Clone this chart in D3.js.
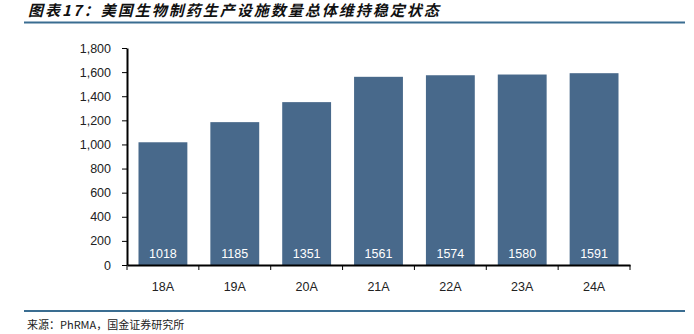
<!DOCTYPE html>
<html lang="zh">
<head>
    <meta charset="UTF-8">
    <title>美国生物制药生产设施数量</title>
    <style>
        body { margin: 0; background: #fff; }
        svg { display: block; }
    </style>
</head>
<body>
<svg></svg>
<script src="https://cdn.jsdelivr.net/npm/d3@7"></script>
<script>
    var years = ["18A", "19A", "20A", "21A", "22A", "23A", "24A"];
    var facilities = [1018, 1185, 1351, 1561, 1574, 1580, 1591];
    var yTicks = [0, 200, 400, 600, 800, 1000, 1200, 1400, 1600, 1800];

    var width = 694, height = 334;
    var plotLeft = 127, plotRight = 630, plotTop = 48, plotBottom = 265;

    var svg = d3.select("svg").attr("width", width).attr("height", height);

    // title + rules
    svg.append("text")
        .attr("x", 28).attr("y", 16)
        .attr("font-family", "'Noto Sans CJK SC', sans-serif")
        .attr("font-size", 15).attr("font-weight", 600).attr("font-style", "italic")
        .attr("letter-spacing", 2)
        .attr("fill", "#111")
        .text("图表17：美国生物制药生产设施数量总体维持稳定状态");
    svg.append("line").attr("x1", 24).attr("x2", 685).attr("y1", 22.5).attr("y2", 22.5)
        .attr("stroke", "#3a6d91").attr("stroke-width", 2);
    svg.append("line").attr("x1", 24).attr("x2", 685).attr("y1", 311).attr("y2", 311)
        .attr("stroke", "#3a6d91").attr("stroke-width", 2);
    svg.append("text")
        .attr("x", 27).attr("y", 329)
        .attr("font-family", "'Noto Sans CJK SC', monospace")
        .attr("font-size", 11).attr("fill", "#222")
        .text("来源：PhRMA，国金证券研究所");

    var x = d3.scaleBand().domain(years).range([plotLeft, plotRight]).paddingInner(0.32).paddingOuter(0.16);
    var y = d3.scaleLinear().domain([0, 1800]).range([plotBottom, plotTop]);

    svg.selectAll("rect.bar")
        .data(facilities)
        .enter().append("rect")
        .attr("class", "bar")
        .attr("x", function (d, i) { return x(years[i]); })
        .attr("y", function (d) { return y(d); })
        .attr("width", x.bandwidth())
        .attr("height", function (d) { return y(0) - y(d); })
        .attr("fill", "#48698b");

    svg.selectAll("text.val")
        .data(facilities)
        .enter().append("text")
        .attr("class", "val")
        .attr("x", function (d, i) { return x(years[i]) + x.bandwidth() / 2; })
        .attr("y", plotBottom - 7)
        .attr("text-anchor", "middle")
        .attr("font-family", "Arial, 'Liberation Sans', sans-serif")
        .attr("font-size", 12.5)
        .attr("fill", "#fff")
        .text(function (d) { return d; });

    var yAxis = svg.append("g")
        .attr("transform", "translate(" + plotLeft + ",0)")
        .call(d3.axisLeft(y).tickValues(yTicks).tickSize(5).tickSizeOuter(0).tickFormat(d3.format(",")));
    var xAxis = svg.append("g")
        .attr("transform", "translate(0," + plotBottom + ")")
        .call(d3.axisBottom(x).tickSize(0).tickSizeOuter(0));

    // x ticks at band boundaries
    var xEdges = years.map(function (d) { return x(d) - x.step() * x.paddingInner() / 2; });
    xAxis.selectAll("line.edge")
        .data(xEdges.concat([plotRight]))
        .enter().append("line")
        .attr("class", "edge")
        .attr("x1", function (d) { return d; }).attr("x2", function (d) { return d; })
        .attr("y1", 0).attr("y2", 5)
        .attr("stroke", "#000");

    [yAxis, xAxis].forEach(function (g) {
        g.select(".domain").attr("stroke", "#000").attr("stroke-width", 2);
        g.selectAll(".tick line").attr("stroke", "#000");
        g.selectAll("text")
            .attr("font-family", "Arial, 'Liberation Sans', sans-serif")
            .attr("font-size", 12.5).attr("fill", "#222");
    });
    yAxis.selectAll("text").attr("x", -16);
    xAxis.selectAll(".tick text").attr("dy", "1.8em");
</script>
</body>
</html>
